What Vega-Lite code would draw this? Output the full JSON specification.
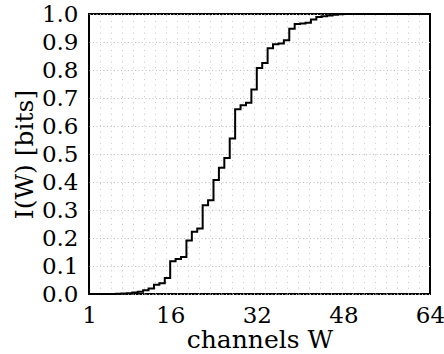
{
  "$schema": "https://vega.github.io/schema/vega-lite/v6.json",
  "width": 341,
  "height": 280,
  "autosize": {"type": "none"},
  "padding": {"left": 89, "top": 14, "right": 14, "bottom": 60},
  "background": "white",
  "title": {"text": "ℓ = 6", "font": "DejaVu Serif", "fontSize": 25, "fontWeight": "normal", "color": "black", "offset": 3, "anchor": "middle", "frame": "group"},
  "config": {
    "view": {"stroke": "black", "strokeWidth": 2},
    "axis": {"labelFont": "DejaVu Serif", "titleFont": "DejaVu Serif", "labelColor": "black", "titleColor": "black", "titleFontWeight": "normal"}
  },
  "data": {"values": [
    {"W": 1, "I": 0}, {"W": 2, "I": 0}, {"W": 3, "I": 0}, {"W": 4, "I": 0},
    {"W": 5, "I": 0.0003}, {"W": 6, "I": 0.001}, {"W": 7, "I": 0.002}, {"W": 8, "I": 0.003},
    {"W": 9, "I": 0.005}, {"W": 10, "I": 0.008}, {"W": 11, "I": 0.013}, {"W": 12, "I": 0.02},
    {"W": 13, "I": 0.033}, {"W": 14, "I": 0.038}, {"W": 15, "I": 0.057}, {"W": 16, "I": 0.117},
    {"W": 17, "I": 0.125}, {"W": 18, "I": 0.132}, {"W": 19, "I": 0.191}, {"W": 20, "I": 0.222},
    {"W": 21, "I": 0.234}, {"W": 22, "I": 0.317}, {"W": 23, "I": 0.335}, {"W": 24, "I": 0.407},
    {"W": 25, "I": 0.451}, {"W": 26, "I": 0.486}, {"W": 27, "I": 0.555}, {"W": 28, "I": 0.66},
    {"W": 29, "I": 0.674}, {"W": 30, "I": 0.683}, {"W": 31, "I": 0.73}, {"W": 32, "I": 0.807},
    {"W": 33, "I": 0.825}, {"W": 34, "I": 0.878}, {"W": 35, "I": 0.892}, {"W": 36, "I": 0.895},
    {"W": 37, "I": 0.906}, {"W": 38, "I": 0.947}, {"W": 39, "I": 0.964}, {"W": 40, "I": 0.966},
    {"W": 41, "I": 0.969}, {"W": 42, "I": 0.98}, {"W": 43, "I": 0.989}, {"W": 44, "I": 0.992},
    {"W": 45, "I": 0.995}, {"W": 46, "I": 0.997}, {"W": 47, "I": 0.999}, {"W": 48, "I": 1.0},
    {"W": 49, "I": 1.0}, {"W": 50, "I": 1.0}, {"W": 51, "I": 1.0}, {"W": 52, "I": 1.0},
    {"W": 53, "I": 1.0}, {"W": 54, "I": 1.0}, {"W": 55, "I": 1.0}, {"W": 56, "I": 1.0},
    {"W": 57, "I": 1.0}, {"W": 58, "I": 1.0}, {"W": 59, "I": 1.0}, {"W": 60, "I": 1.0},
    {"W": 61, "I": 1.0}, {"W": 62, "I": 1.0}, {"W": 63, "I": 1.0}, {"W": 64, "I": 1.0}
  ]},
  "resolve": {"axis": {"x": "independent", "y": "independent"}},
  "layer": [
    {
      "mark": {"type": "line", "strokeOpacity": 0},
      "encoding": {
        "x": {"field": "W", "type": "quantitative", "scale": {"domain": [1, 64], "nice": false, "zero": false},
          "axis": {"orient": "top", "labels": false, "ticks": false, "domain": false, "title": null, "grid": true,
            "gridColor": "#c4c4c4", "gridDash": [1, 4.8], "gridWidth": 1,
            "values": [3.032, 5.065, 7.097, 9.129, 11.161, 13.194, 15.226, 17.258, 19.29, 21.323, 23.355, 25.387, 27.419, 29.452, 31.484, 33.516, 35.548, 37.581, 39.613, 41.645, 43.677, 45.71, 47.742, 49.774, 51.806, 53.839, 55.871, 57.903, 59.935, 61.968]}},
        "y": {"field": "I", "type": "quantitative", "scale": {"domain": [0, 1], "nice": false}, "axis": null}
      }
    },
    {
      "mark": {"type": "line", "interpolate": "step-after", "color": "black", "strokeWidth": 2},
      "encoding": {
        "x": {"field": "W", "type": "quantitative", "scale": {"domain": [1, 64], "nice": false, "zero": false},
          "axis": {"values": [1, 16, 32, 48, 64], "grid": false, "domain": false, "ticks": false, "tickSize": 0,
            "labelFontSize": 23, "labelPadding": 10, "labelFlush": false, "labelOverlap": false,
            "title": "channels W", "titleFontSize": 25, "titlePadding": 0}},
        "y": {"field": "I", "type": "quantitative", "scale": {"domain": [0, 1], "nice": false},
          "axis": {"values": [0, 0.1, 0.2, 0.3, 0.4, 0.5, 0.6, 0.7, 0.8, 0.9, 1.0], "format": ".1f",
            "grid": true, "gridColor": "#bdbdbd", "gridDash": [1, 2.5], "gridWidth": 1,
            "domain": false, "ticks": false, "tickSize": 0, "labelFontSize": 23, "labelPadding": 11,
            "labelFlush": false, "labelOverlap": false,
            "title": "I(W) [bits]", "titleFontSize": 25, "titlePadding": 4}}
      }
    }
  ]
}
